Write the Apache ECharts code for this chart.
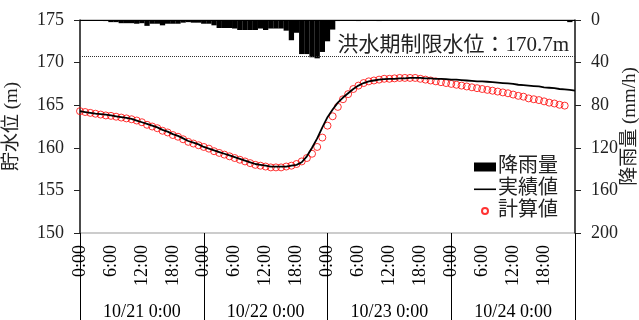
<!DOCTYPE html>
<html>
<head>
<meta charset="utf-8">
<script src="https://cdn.jsdelivr.net/npm/echarts@6/dist/echarts.min.js"></script>
<style>
  html, body { margin: 0; padding: 0; background: #fff; }
  #chart { width: 639px; height: 320px; }
</style>
</head>
<body>
<div id="chart"></div>
<script>
// hours from 10/21 0:00
const days = ['10/21 0:00', '10/22 0:00', '10/23 0:00', '10/24 0:00'];

// rainfall (mm/h), one value per hour, h0..h95
const rain = [
  0, 0, 0, 0, 0, 1, 2, 2, 3, 3,
  3, 3.5, 3, 5.5, 3.5, 3.5, 5, 3.5, 3.5, 3.5,
  2.5, 2, 2.5, 2.5, 3.5, 3.5, 5, 7.5, 7.5, 7.5,
  8, 9.4, 9.4, 9.4, 9.4, 8, 9.4, 8, 8, 8,
  10, 19, 12, 32, 32, 35, 36, 30, 20, 9,
  1, 0, 0, 0, 1, 0, 0, 0, 1, 0,
  0, 0, 0, 0, 0, 0, 0, 0, 0, 0,
  0, 0, 0, 0, 0, 0, 0, 0, 0, 0,
  0, 0, 0, 0, 0, 0, 0, 0, 0, 0,
  0, 0, 0, 0, 0, 2
];

// observed level (m), h0..h96
const observed = [
  164.3, 164.2, 164.1, 164.0, 163.95, 163.9, 163.8, 163.7, 163.6, 163.5,
  163.4, 163.2, 163.0, 162.8, 162.6, 162.4, 162.1, 161.9, 161.6, 161.4,
  161.1, 160.8, 160.6, 160.4, 160.1, 159.9, 159.7, 159.5, 159.3, 159.1,
  158.9, 158.7, 158.5, 158.3, 158.1, 158.0, 157.9, 157.8, 157.8, 157.8,
  157.8, 157.9, 158.0, 158.3, 159.0, 160.0, 161.1, 162.4, 163.6, 164.5,
  165.3, 165.9, 166.4, 166.9, 167.3, 167.6, 167.8, 167.9, 168.0, 168.05,
  168.1, 168.1, 168.15, 168.15, 168.2, 168.2, 168.2, 168.15, 168.15, 168.1,
  168.1, 168.05, 168.0, 168.0, 167.95, 167.9, 167.85, 167.8, 167.8, 167.75,
  167.7, 167.65, 167.6, 167.55, 167.5, 167.4, 167.35, 167.3, 167.25, 167.2,
  167.1, 167.05, 167.0, 166.9, 166.85, 166.8, 166.7
];

// computed level (m), h0..h94
const computed = [
  164.3, 164.2, 164.1, 164.0, 163.9, 163.8, 163.75, 163.65, 163.55, 163.45,
  163.35, 163.2, 163.0, 162.7, 162.5, 162.3, 162.0, 161.8, 161.5, 161.3,
  161.0, 160.7, 160.5, 160.3, 160.1, 159.9, 159.6, 159.4, 159.2, 159.0,
  158.8, 158.6, 158.4, 158.2, 158.0, 157.9, 157.8, 157.7, 157.7, 157.7,
  157.8, 157.9, 158.1, 158.4, 158.8, 159.3, 160.1, 161.2, 162.6, 163.7,
  164.8, 165.7, 166.3, 166.9, 167.3, 167.6, 167.8, 167.9, 168.0, 168.1,
  168.1, 168.15, 168.2, 168.2, 168.2, 168.2, 168.1, 168.0, 167.9, 167.8,
  167.7, 167.6, 167.5, 167.4, 167.3, 167.2, 167.1, 167.0, 166.9, 166.8,
  166.7, 166.6, 166.5, 166.4, 166.25, 166.1, 166.0, 165.8, 165.7, 165.6,
  165.45, 165.3, 165.2, 165.05, 164.95
];

const limitLevel = 170.7;

const font = '"Liberation Serif", "Noto Sans CJK JP", serif';

const chart = echarts.init(document.getElementById('chart'));
chart.setOption({
  animation: false,
  textStyle: { fontFamily: font, color: '#000' },
  grid: {
    left: 80, right: 64, top: 20, bottom: 87,
    outerBoundsMode: 'none', containLabel: false,
    show: true, borderColor: '#999', borderWidth: 1
  },
  legend: {
    orient: 'vertical',
    left: 468, top: 152,
    itemWidth: 22, itemHeight: 9, itemGap: 2,
    textStyle: { fontSize: 20, fontFamily: font, color: '#222', padding: [0, 0, 0, -3] },
    data: [
      { name: '降雨量', icon: 'rect' },
      { name: '実績値', icon: 'path://M0,0 M0,4 L22,4 L22,5.6 L0,5.6 Z M22,9' },
      { name: '計算値', icon: 'path://M0,0 M8,4.5 A3,3 0 1,0 14,4.5 A3,3 0 1,0 8,4.5 Z M22,9' }
    ]
  },
  xAxis: [
    {
      type: 'value', min: 0, max: 96, interval: 6,
      axisLine: { lineStyle: { color: '#000', width: 1 } },
      axisTick: { show: false },
      splitLine: { show: false },
      axisLabel: {
        rotate: 90, fontSize: 18, color: '#000', margin: 12, fontFamily: font,
        showMaxLabel: false,
        formatter: (v) => (v >= 96 ? '' : (v % 24) + ':00')
      }
    },
    {
      type: 'category', position: 'bottom', data: days, boundaryGap: true,
      axisLine: { show: false },
      axisTick: { show: true, length: 90, lineStyle: { color: '#000', width: 1 } },
      axisLabel: { fontSize: 18, color: '#000', margin: 70, fontFamily: font },
      splitLine: { show: false }
    }
  ],
  yAxis: [
    {
      type: 'value', min: 150, max: 175, interval: 5,
      name: '貯水位 (m)', nameLocation: 'middle', nameGap: 58, nameRotate: 90,
      nameTextStyle: { fontSize: 19, color: '#222', fontFamily: font },
      axisLine: { show: true, lineStyle: { color: '#222', width: 1.5 } },
      axisTick: { show: true, length: 6, lineStyle: { color: '#222' } },
      axisLabel: { fontSize: 18, color: '#222', margin: 16, fontFamily: font },
      splitLine: { show: false }
    },
    {
      type: 'value', min: 0, max: 200, interval: 40, inverse: true, position: 'right',
      name: '降雨量 (mm/h)', nameLocation: 'middle', nameGap: 46, nameRotate: 90,
      nameMoveOverlap: false,
      nameTextStyle: { fontSize: 19, color: '#222', fontFamily: font },
      axisLine: { show: true, lineStyle: { color: '#222', width: 1.5 } },
      axisTick: { show: true, length: 6, lineStyle: { color: '#222' } },
      axisLabel: { fontSize: 18, color: '#222', margin: 16, fontFamily: font },
      splitLine: { show: false }
    }
  ],
  series: [
    {
      name: '降雨量', type: 'bar', xAxisIndex: 0, yAxisIndex: 1,
      barWidth: 5.3,
      itemStyle: { color: '#000' },
      data: rain.map((v, i) => [i, v])
    },
    {
      name: '実績値', type: 'line', xAxisIndex: 0, yAxisIndex: 0,
      symbol: 'none', smooth: false,
      lineStyle: { color: '#000', width: 1.8 },
      itemStyle: { color: '#000' },
      data: observed.map((v, i) => [i, v]),
      markLine: {
        silent: true, symbol: 'none',
        lineStyle: { color: '#333', type: 'dotted', width: 1 },
        label: {
          position: 'insideEndTop', formatter: '洪水期制限水位：170.7m',
          fontSize: 21, color: '#222', fontFamily: font, distance: [6, 1]
        },
        data: [{ yAxis: limitLevel }]
      }
    },
    {
      name: '計算値', type: 'scatter', xAxisIndex: 0, yAxisIndex: 0,
      symbol: 'circle', symbolSize: 7,
      itemStyle: { color: 'rgba(255,255,255,0)', borderColor: '#ff0000', borderWidth: 1 },
      data: computed.map((v, i) => [i, v])
    }
  ]
});
</script>
</body>
</html>
